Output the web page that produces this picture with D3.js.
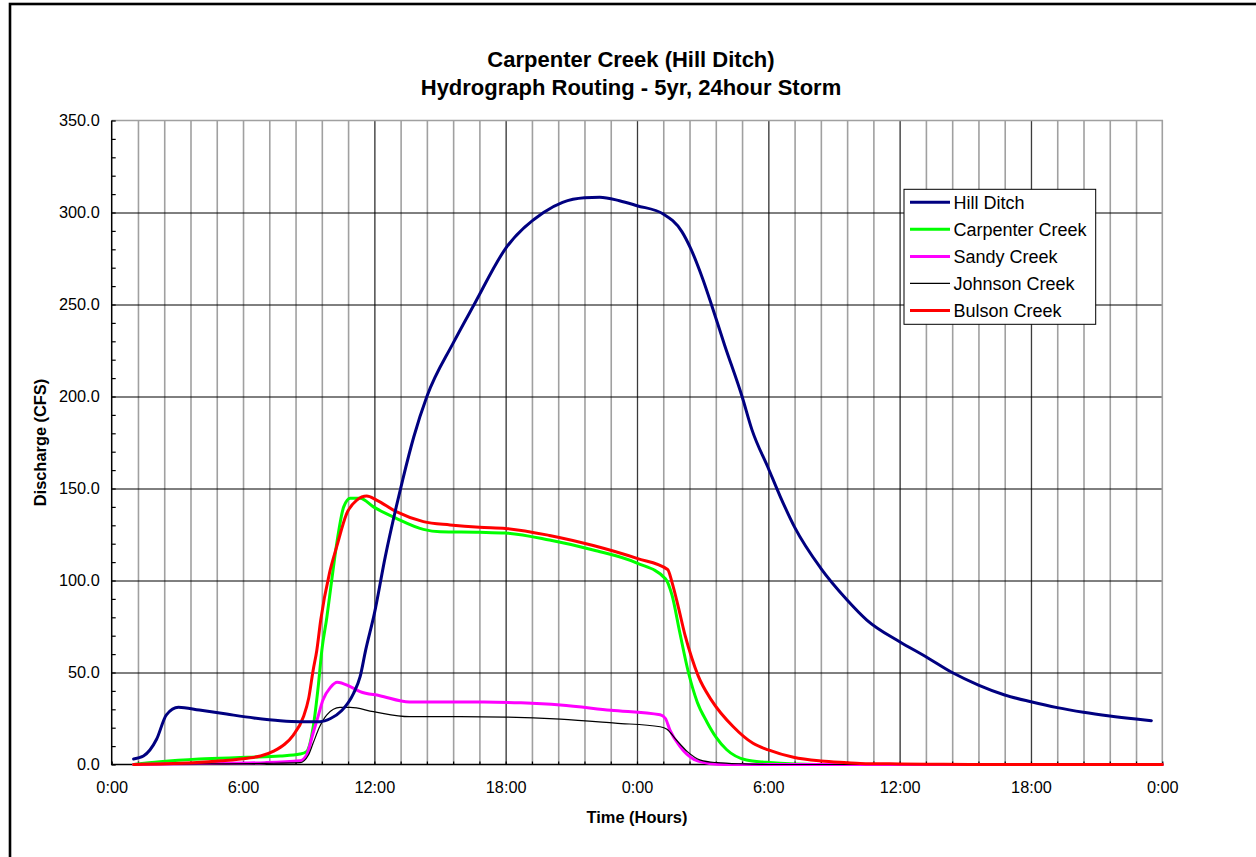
<!DOCTYPE html>
<html>
<head>
<meta charset="utf-8">
<script src="https://cdn.jsdelivr.net/npm/d3@7"></script>
<style>
  html, body { margin: 0; padding: 0; background: #fff; }
  svg { display: block; font-family: "Liberation Sans", Arial, sans-serif; }
</style>
</head>
<body>
<svg id="chart" width="1256" height="857"></svg>
<script>
// ---------- DATA (hours from start, discharge in CFS) ----------
const titleLines = ["Carpenter Creek (Hill Ditch)", "Hydrograph Routing - 5yr, 24hour Storm"];
const xTitle = "Time (Hours)";
const yTitle = "Discharge (CFS)";

const xTickHours = [0, 6, 12, 18, 24, 30, 36, 42, 48];
const xTickLabels = ["0:00", "6:00", "12:00", "18:00", "0:00", "6:00", "12:00", "18:00", "0:00"];
const yTickValues = [0, 50, 100, 150, 200, 250, 300, 350];

const seriesNames = ["Hill Ditch", "Carpenter Creek", "Sandy Creek", "Johnson Creek", "Bulson Creek"];

const hillHours = [1.0,1.45,2.05,2.5,3.05,4.0,5.25,6.5,7.7,8.6,9.5,10.0,10.5,11.05,11.35,11.6,12.0,12.5,13.0,13.3,13.8,14.4,15.6,16.56,18.0,19.73,20.6,21.6,22.3,23.2,24.0,25.2,26.05,26.45,27.0,27.4,28.0,28.8,29.25,30.0,30.55,31.2,32.4,33.6,34.5,36.0,37.2,38.4,39.6,40.8,42.0,43.2,44.4,45.6,46.8,47.5];
const hillFlow  = [3.0,4.6,13.7,27,31.1,29.6,27.4,25.3,23.8,23.3,23.3,25,29.2,38.7,47.7,62,82,113,140,155,178,200,229,250,280.5,300,305.5,308,308.3,306.4,303.7,299.2,289.6,280.5,264,250,228,200,182,161,145.5,129,106.6,89.4,78.5,66.7,58.6,50,43.2,37.8,34.1,30.9,28.4,26.4,24.7,23.8];

const carpHours = [1.0,2.2,4.0,6.2,7.7,8.6,8.9,9.2,9.45,9.6,9.83,10.05,10.28,10.6,10.9,11.35,11.96,13.0,14.24,15.0,16.8,18.0,20.0,22.0,24.0,25.3,25.6,25.95,26.35,26.75,27.2,27.6,28.1,29.0,29.9,31.2,33.0,48.0];
const carpFlow  = [0,1.5,3.0,3.9,4.6,5.7,7,20,44,62,80,100,120,140,144.7,144.7,140,133.8,127.8,126.5,126.2,125.8,122,116.6,109.5,101,92,72,50,34,23,15,8,2.4,1.2,0.3,0,0];

const sandyHours = [1.0,4.0,7.0,8.6,8.9,9.2,9.45,9.65,10.0,10.3,10.9,11.35,12.25,13.6,15.0,17.0,18.7,20.5,22.8,25.06,25.3,25.5,25.97,26.6,27.3,28.0,48.0];
const sandyFlow  = [0,0.5,1.0,2.0,5,17,27,35,42,44.7,42.3,39.6,37.4,34,34,34,33.5,32.3,29.5,27,25,18.8,9.7,2.8,0.6,0,0];

const johnHours = [1.0,4.0,7.0,8.6,8.99,9.2,9.5,9.83,10.43,10.9,11.96,13.6,15.9,18.0,20.5,23.0,25.06,25.37,25.8,26.3,26.9,27.65,28.9,30.0,48.0];
const johnFlow  = [0,0.3,0.6,1.0,5.2,11.5,20.5,27,31,31,28.7,26,26,25.8,24.7,22.5,20.5,19.1,13.3,7,2.4,1.0,0.3,0,0];

const bulsHours = [1.0,2.5,3.7,5.0,6.2,6.8,7.4,7.9,8.3,8.76,9.0,9.2,9.37,9.55,9.95,10.28,10.74,11.2,11.65,12.1,13.0,14.24,15.46,16.8,18.0,20.0,22.0,24.0,25.4,25.6,25.9,26.2,26.5,26.8,27.4,28.4,29.3,30.0,31.15,32.4,33.6,34.2,36.0,38.0,40.0,48.0];
const bulsFlow  = [0,0.4,1.0,2.0,3.4,4.6,7.3,11,16,26,36,51,62,78.5,104,118.4,136.5,143.7,145.9,143.7,137.4,132,130.2,128.9,128.3,124.5,119,112,106,99,85,70,58,48,35,20.5,11.5,7.9,3.9,1.9,1.0,0.6,0.3,0.1,0,0];

// ---------- LAYOUT ----------
const svg = d3.select("#chart");
const plot = { left: 111.7, right: 1162.3, top: 120.5, bottom: 764.5 };
const x = d3.scaleLinear().domain([0, 48]).range([plot.left, plot.right]);
const y = d3.scaleLinear().domain([0, 350]).range([plot.bottom, plot.top]);

const series = [
  { name: seriesNames[0], hours: hillHours,  flow: hillFlow,  color: "#000080", width: 3 },
  { name: seriesNames[1], hours: carpHours,  flow: carpFlow,  color: "#00ff00", width: 3 },
  { name: seriesNames[2], hours: sandyHours, flow: sandyFlow, color: "#ff00ff", width: 3 },
  { name: seriesNames[3], hours: johnHours,  flow: johnFlow,  color: "#000000", width: 1.2 },
  { name: seriesNames[4], hours: bulsHours,  flow: bulsFlow,  color: "#ff0000", width: 3 }
];

// outer chart frame
svg.append("rect").attr("x", 10).attr("y", 4).attr("width", 1400).attr("height", 1000)
  .attr("fill", "#fff").attr("stroke", "#000").attr("stroke-width", 2.6);

// plot background
svg.append("rect").attr("x", plot.left).attr("y", plot.top)
  .attr("width", plot.right - plot.left).attr("height", plot.bottom - plot.top).attr("fill", "#fff");

// minor vertical gridlines (every 1.2 h)
const minorX = d3.range(1, 40).map(i => i * 1.2);
svg.append("g")
  .attr("transform", `translate(0,${plot.top})`)
  .call(d3.axisBottom(x).tickValues(minorX).tickSize(plot.bottom - plot.top).tickFormat(""))
  .call(g => g.select(".domain").remove())
  .call(g => g.selectAll(".tick line").attr("stroke", "#a0a0a0").attr("stroke-width", 1.6));

// major vertical gridlines (every 6 h)
const majorX = xTickHours.filter(h => h >= 12 && h <= 42);
svg.append("g")
  .attr("transform", `translate(0,${plot.top})`)
  .call(d3.axisBottom(x).tickValues(majorX).tickSize(plot.bottom - plot.top).tickFormat(""))
  .call(g => g.select(".domain").remove())
  .call(g => g.selectAll(".tick line").attr("stroke", "#3a3a3a").attr("stroke-width", 1));

// horizontal gridlines
svg.append("g")
  .attr("transform", `translate(${plot.left},0)`)
  .call(d3.axisRight(y).tickValues(yTickValues.filter(v => v > 0 && v < 350)).tickSize(plot.right - plot.left).tickFormat(""))
  .call(g => g.select(".domain").remove())
  .call(g => g.selectAll(".tick line").attr("stroke", "#000").attr("stroke-width", 1));

// top and right border (gray)
svg.append("path")
  .attr("d", `M${plot.left},${plot.top}H${plot.right}V${plot.bottom}`)
  .attr("fill", "none").attr("stroke", "#a0a0a0").attr("stroke-width", 1.6);

// y axis: labels
const yAxis = svg.append("g")
  .attr("transform", `translate(${plot.left},0)`)
  .call(d3.axisLeft(y).tickValues(yTickValues).tickFormat(d3.format(".1f")).tickSize(0).tickPadding(12));
yAxis.select(".domain").remove();
yAxis.selectAll("text").attr("font-size", "16.3px").attr("fill", "#000")
  .attr("font-family", "'Liberation Sans', Arial, sans-serif");

// y minor ticks (inside)
svg.append("g")
  .attr("transform", `translate(${plot.left},0)`)
  .call(d3.axisRight(y).tickValues(d3.range(0, 351, 10)).tickSize(4).tickFormat(""))
  .call(g => g.select(".domain").remove())
  .call(g => g.selectAll(".tick line").attr("stroke", "#000").attr("stroke-width", 1.2));

// x axis labels
const xAxis = svg.append("g")
  .attr("transform", `translate(0,${plot.bottom})`)
  .call(d3.axisBottom(x).tickValues(xTickHours).tickFormat((d, i) => xTickLabels[i]).tickSize(0).tickPadding(17));
xAxis.select(".domain").remove();
xAxis.selectAll("text").attr("font-size", "16.3px").attr("fill", "#000")
  .attr("font-family", "'Liberation Sans', Arial, sans-serif");

// x minor ticks (inside)
svg.append("g")
  .attr("transform", `translate(0,${plot.bottom})`)
  .call(d3.axisTop(x).tickValues(d3.range(0, 41).map(i => i * 1.2)).tickSize(3).tickFormat(""))
  .call(g => g.select(".domain").remove())
  .call(g => g.selectAll(".tick line").attr("stroke", "#000").attr("stroke-width", 1.2));

// axis lines (black)
svg.append("path")
  .attr("d", `M${plot.left},${plot.top}V${plot.bottom}H${plot.right}`)
  .attr("fill", "none").attr("stroke", "#000").attr("stroke-width", 1.5);

// series lines
const line = d3.line().curve(d3.curveMonotoneX);
const drawOrder = [1, 2, 3, 4, 0];
drawOrder.forEach(i => {
  const s = series[i];
  const pts = s.hours.map((h, k) => [x(h), y(s.flow[k])]);
  svg.append("path")
    .attr("d", line(pts))
    .attr("fill", "none")
    .attr("stroke", s.color)
    .attr("stroke-width", s.width)
    .attr("stroke-linejoin", "round")
    .attr("stroke-linecap", "round");
});

// title
svg.append("text").attr("x", 631).attr("y", 66.7).attr("text-anchor", "middle")
  .attr("font-size", "22px").attr("font-weight", "bold").text(titleLines[0]);
svg.append("text").attr("x", 631).attr("y", 95).attr("text-anchor", "middle")
  .attr("font-size", "22px").attr("font-weight", "bold").text(titleLines[1]);

// axis titles
svg.append("text").attr("x", (plot.left + plot.right) / 2).attr("y", 823)
  .attr("text-anchor", "middle").attr("font-size", "16.4px").attr("font-weight", "bold").text(xTitle);
svg.append("text").attr("transform", `translate(46,${(plot.top + plot.bottom) / 2}) rotate(-90)`)
  .attr("text-anchor", "middle").attr("font-size", "16.4px").attr("font-weight", "bold").text(yTitle);

// legend
const legend = svg.append("g");
legend.append("rect").attr("x", 904).attr("y", 189.3).attr("width", 191.7).attr("height", 135)
  .attr("fill", "#fff").attr("stroke", "#000").attr("stroke-width", 1);
const legendY = d3.scalePoint().domain(seriesNames).range([202.3, 310.5]);
series.forEach(s => {
  const ly = legendY(s.name);
  legend.append("line").attr("x1", 910).attr("x2", 950).attr("y1", ly).attr("y2", ly)
    .attr("stroke", s.color).attr("stroke-width", s.width);
  legend.append("text").attr("x", 953.5).attr("y", ly).attr("dy", "0.36em")
    .attr("font-size", "18px").text(s.name);
});
</script>
</body>
</html>
